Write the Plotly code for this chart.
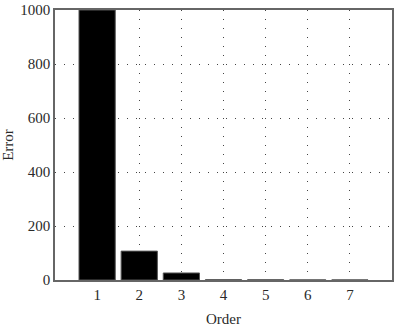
import plotly.graph_objects as go

orders = [1, 2, 3, 4, 5, 6, 7]
errors = [1000, 107, 26, 1, 0.6, 0.4, 0.3]
y_ticks = [0, 200, 400, 600, 800, 1000]

font = dict(family="Liberation Serif, Times New Roman, serif", size=15, color="#2a2a2a")

fig = go.Figure(go.Bar(
    x=orders, y=errors, width=0.86,
    marker=dict(color="black", line=dict(color="#555", width=1)),
))

fig.update_layout(
    width=398, height=328,
    margin=dict(l=55, r=6, t=10, b=48, autoexpand=False),
    paper_bgcolor="white", plot_bgcolor="white",
    font=font, showlegend=False,
)
fig.update_xaxes(
    range=[0, 8], tickvals=orders, ticktext=[str(o) for o in orders],
    showgrid=True, gridcolor="#444", gridwidth=1, griddash="1px,8px",
    showline=True, linecolor="#666", linewidth=1.5, mirror=True,
    ticks="", zeroline=False, automargin=False,
    title=dict(text="Order", standoff=12, font=font),
)
fig.update_yaxes(
    range=[0, 1000], tickvals=y_ticks,
    showgrid=True, gridcolor="#444", gridwidth=1, griddash="1px,8px",
    showline=True, linecolor="#666", linewidth=1.5, mirror=True,
    ticks="", zeroline=False, automargin=False,
    title=dict(text="Error", standoff=8, font=font),
)

fig.write_html("out.html")
